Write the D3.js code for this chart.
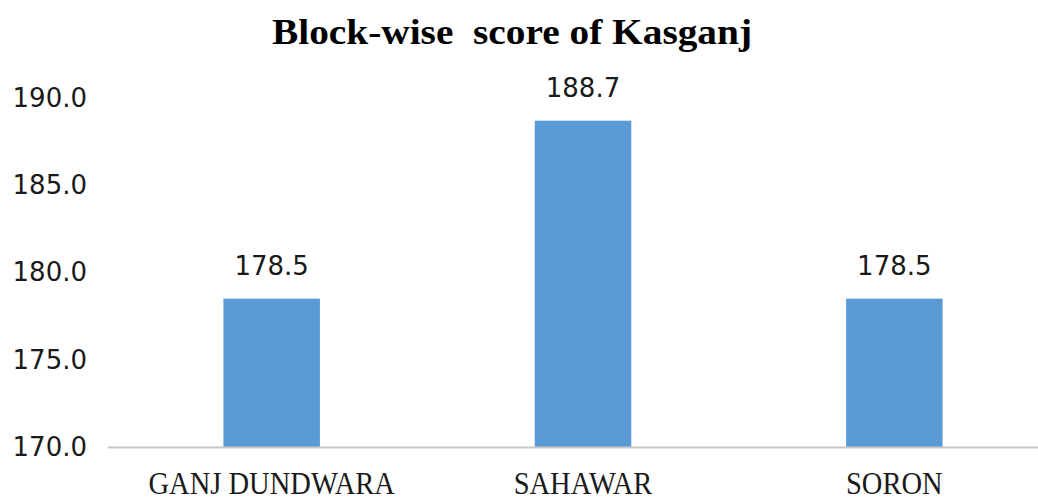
<!DOCTYPE html>
<html>
<head>
<meta charset="utf-8">
<script src="https://cdn.jsdelivr.net/npm/d3@7"></script>
<style>
  html, body { margin: 0; padding: 0; background: #ffffff; }
  svg { display: block; }
</style>
</head>
<body>
<svg id="chart" width="1038" height="501"></svg>
<script>
// Block-level scores for Kasganj district
const blocks = ["GANJ DUNDWARA", "SAHAWAR", "SORON"];
const scores = [178.5, 188.7, 178.5];
const yTicks = [170, 175, 180, 185, 190];
const chartTitle = "Block-wise  score of Kasganj";

const width = 1038, height = 501;
const plot = { left: 116, right: 1050, top: 98, bottom: 447 };

const svg = d3.select("#chart");

const x = d3.scaleBand()
  .domain(blocks)
  .range([plot.left, plot.right])
  .paddingInner(0.69)
  .paddingOuter(0.345);

const y = d3.scaleLinear()
  .domain([170, 190])
  .range([plot.bottom, plot.top]);

// Title
svg.append("text")
  .attr("x", 512)
  .attr("y", 44)
  .attr("text-anchor", "middle")
  .attr("font-family", "Liberation Serif, serif")
  .attr("font-weight", "bold")
  .attr("font-size", 36)
  .attr("fill", "#000")
  .attr("xml:space", "preserve")
  .style("white-space", "pre")
  .attr("textLength", 480)
  .attr("lengthAdjust", "spacingAndGlyphs")
  .text(chartTitle);

// Y axis (labels only, no line or ticks)
const yAxis = d3.axisLeft(y)
  .tickValues(yTicks)
  .tickFormat(d3.format(".1f"))
  .tickSize(0)
  .tickPadding(0);

const yG = svg.append("g")
  .attr("transform", "translate(87,0)")
  .call(yAxis);
yG.select(".domain").remove();
yG.selectAll("text")
  .attr("font-family", "DejaVu Sans, sans-serif")
  .attr("font-size", 26)
  .attr("fill", "#1a1a1a");

// Bars
svg.append("g")
  .selectAll("rect")
  .data(blocks)
  .join("rect")
  .attr("x", d => x(d))
  .attr("width", x.bandwidth())
  .attr("y", (d, i) => y(scores[i]))
  .attr("height", (d, i) => y(170) - y(scores[i]))
  .attr("fill", "#5B9BD5");

// Value labels
svg.append("g")
  .selectAll("text")
  .data(blocks)
  .join("text")
  .attr("x", d => x(d) + x.bandwidth() / 2)
  .attr("y", (d, i) => y(scores[i]) - 24)
  .attr("text-anchor", "middle")
  .attr("font-family", "DejaVu Sans, sans-serif")
  .attr("font-size", 26)
  .attr("fill", "#1a1a1a")
  .text((d, i) => d3.format(".1f")(scores[i]));

// Category axis
const xAxis = d3.axisBottom(x).tickSize(0).tickPadding(0);
const xG = svg.append("g")
  .attr("transform", `translate(0,${plot.bottom})`)
  .call(xAxis);
xG.select(".domain")
  .attr("d", `M108,0.5H${width}`)
  .attr("stroke", "#c8c8c8")
  .attr("stroke-width", 2);
xG.selectAll(".tick text")
  .attr("y", 47)
  .attr("dy", null)
  .attr("font-family", "Liberation Serif, serif")
  .attr("font-size", 31)
  .attr("fill", "#1a1a1a")
  .each(function () {
    // condensed serif look
    const len = this.getComputedTextLength();
    d3.select(this)
      .attr("textLength", len * 0.92)
      .attr("lengthAdjust", "spacingAndGlyphs");
  });
</script>
</body>
</html>
